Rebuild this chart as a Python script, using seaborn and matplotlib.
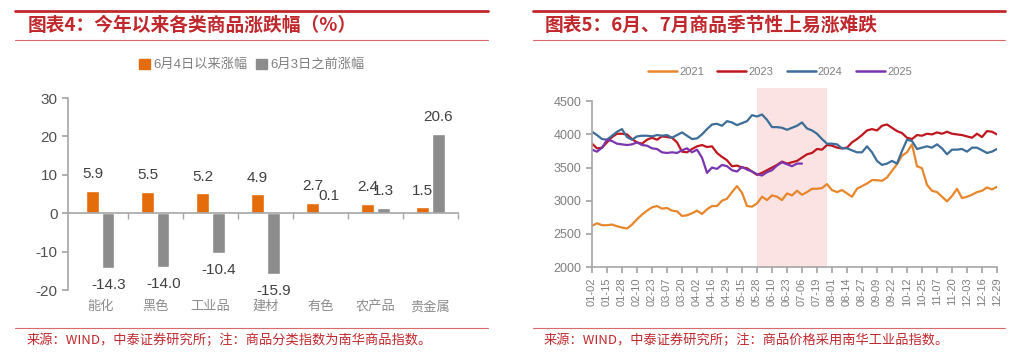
import numpy as np
import pandas as pd
import matplotlib
matplotlib.use('Agg')
import matplotlib.pyplot as plt
from matplotlib.lines import Line2D
from matplotlib.patches import Patch
import seaborn as sns

# left chart: year-to-date change by commodity group (%)
categories = ['能化', '黑色', '工业品', '建材', '有色', '农产品', '贵金属']
rise_since_0604 = [5.9, 5.5, 5.2, 4.9, 2.7, 2.4, 1.5]
rise_before_0603 = [-14.3, -14.0, -10.4, -15.9, 0.1, 1.3, 20.6]
bar_series = ['6月4日以来涨幅', '6月3日之前涨幅']

# right chart: Nanhua industrial index by year, one value every 3 trading days
tick_dates = ['01-02', '01-15', '01-28', '02-10', '02-23', '03-07', '03-20',
              '04-02', '04-16', '04-29', '05-15', '05-28', '06-10', '06-23',
              '07-06', '07-19', '08-01', '08-14', '08-27', '09-09', '09-22',
              '10-12', '10-25', '11-07', '11-20', '12-03', '12-16', '12-29']
y2021 = [2620, 2660, 2630, 2630, 2640, 2615, 2595, 2580, 2640, 2720,
         2790, 2850, 2900, 2920, 2880, 2890, 2850, 2840, 2770, 2780,
         2810, 2850, 2800, 2870, 2920, 2920, 3000, 3030, 3130, 3220,
         3120, 2920, 2910, 2960, 3060, 3010, 3080, 3060, 3010, 3110,
         3080, 3150, 3090, 3130, 3180, 3180, 3190, 3250, 3160, 3130,
         3160, 3110, 3060, 3180, 3220, 3260, 3310, 3310, 3300, 3350,
         3450, 3550, 3680, 3730, 3850, 3520, 3490, 3240, 3150, 3130,
         3060, 2990, 3070, 3180, 3040, 3060, 3090, 3130, 3150, 3200,
         3170, 3210]
y2023 = [3860, 3790, 3800, 3880, 3960, 4010, 4010, 4000, 3930, 3880,
         3860, 3920, 3950, 3920, 3970, 3960, 3950, 3880, 3740, 3730,
         3780, 3820, 3840, 3810, 3820, 3720, 3660, 3610, 3520, 3530,
         3500, 3490, 3440, 3390, 3420, 3460, 3500, 3540, 3590, 3560,
         3580, 3600, 3650, 3700, 3720, 3780, 3770, 3840, 3830, 3800,
         3790, 3800, 3880, 3930, 3990, 4060, 4080, 4060, 4130, 4150,
         4100, 4050, 4020, 3950, 3930, 3990, 3980, 4010, 4000, 4030,
         4010, 4040, 4010, 4000, 3990, 3970, 3950, 4010, 3960, 4050,
         4040, 4000]
y2024 = [4040, 3990, 3930, 3920, 3980, 4040, 4080, 3960, 3920, 3970,
         3980, 3980, 3970, 3990, 3980, 3990, 3950, 3990, 4030, 3980,
         3930, 3940, 4000, 4080, 4150, 4160, 4130, 4200, 4180, 4140,
         4170, 4200, 4290, 4270, 4300, 4220, 4110, 4110, 4100, 4070,
         4100, 4130, 4180, 4090, 4060, 4010, 3930, 3860, 3860, 3850,
         3790, 3790, 3760, 3730, 3730, 3820, 3730, 3600, 3540, 3560,
         3600, 3560, 3750, 3920, 3900, 3780, 3800, 3820, 3800, 3850,
         3790, 3700, 3770, 3770, 3780, 3740, 3800, 3800, 3760, 3720,
         3740, 3780]
y2025 = [3770, 3740, 3800, 3920, 3900, 3860, 3850, 3840, 3850, 3880,
         3840, 3830, 3790, 3780, 3730, 3720, 3730, 3720, 3760, 3790,
         3730, 3770, 3650, 3420, 3500, 3480, 3540, 3520, 3460, 3440,
         3510, 3470, 3440, 3400, 3380, 3430, 3460, 3530, 3580, 3550,
         3520, 3560, 3560]
years = ['2021', '2023', '2024', '2025']
season_start, season_end = 33, 47   # June-July window, in sample units

RED = '#c0282d'
ORANGE = '#e46c0a'
GREY = '#8c8c8c'
AXIS = '#a6a6a6'
line_palette = {'2021': '#e8862c', '2023': '#c0161e', '2024': '#3d6d99', '2025': '#7a35b0'}

sns.set_theme(style='ticks')
plt.rcParams['font.family'] = ['Liberation Sans', 'Noto Sans CJK SC', 'DejaVu Sans']
plt.rcParams['axes.unicode_minus'] = False

fig = plt.figure(figsize=(10.24, 3.56), dpi=100)
ax1 = fig.add_axes([68 / 1024, 1 - 290 / 356, 390 / 1024, 192 / 356])
ax2 = fig.add_axes([592 / 1024, 1 - 267 / 356, 405 / 1024, 179 / 356])

# ---- left: grouped bars
bar_df = pd.DataFrame({
    'cat': categories * 2,
    'val': rise_since_0604 + rise_before_0603,
    'series': [bar_series[0]] * len(categories) + [bar_series[1]] * len(categories),
})
sns.barplot(data=bar_df, x='cat', y='val', hue='series', palette=[ORANGE, GREY],
            width=0.58, gap=0.24, saturation=1, errorbar=None, legend=False, ax=ax1)
for cont in ax1.containers:
    ax1.bar_label(cont, fmt='%.1f', padding=7, fontsize=11, color='#404040')

ax1.set_xlim(-0.59, 6.5)
ax1.set_ylim(-20, 30)
ax1.set_yticks(range(-20, 31, 10))
ax1.set_xlabel('')
ax1.set_ylabel('')
ax1.spines[['top', 'right']].set_visible(False)
ax1.spines['bottom'].set_position(('data', 0))
for s in ['left', 'bottom']:
    ax1.spines[s].set_color(AXIS)
    ax1.spines[s].set_linewidth(1.2)
ax1.set_xticks(np.arange(0.5, 7, 1), minor=True)
ax1.tick_params(axis='x', which='major', length=0, pad=63, labelsize=9.5, labelcolor=GREY)
ax1.tick_params(axis='x', which='minor', length=4, color=AXIS, width=1)
ax1.tick_params(axis='y', length=4, color=AXIS, labelsize=11, labelcolor='#505050')
ax1.legend(handles=[Patch(color=ORANGE, label=bar_series[0]), Patch(color=GREY, label=bar_series[1])],
           loc='center', bbox_to_anchor=(252 / 1024, 1 - 65 / 356), bbox_transform=fig.transFigure,
           ncol=2, frameon=False, fontsize=9.5, labelcolor='#7f7f7f',
           handlelength=0.8, handleheight=0.8, handletextpad=0.3, columnspacing=0.6)

# ---- right: seasonal lines
line_df = pd.concat([
    pd.DataFrame({'idx': np.arange(len(v)), 'val': v, 'year': y})
    for y, v in zip(years, [y2021, y2023, y2024, y2025])
])
ax2.axvspan(season_start, season_end, color='#fbe3e3', lw=0, zorder=0)
sns.lineplot(data=line_df, x='idx', y='val', hue='year', palette=line_palette,
             linewidth=1.6, legend=False, ax=ax2)
ax2.set_xlim(0, len(y2021) - 1)
ax2.set_ylim(2000, 4700)
ax2.set_yticks(range(2000, 4501, 500))
ax2.set_xticks(np.arange(0, len(y2021), 3))
ax2.set_xticklabels(tick_dates, rotation=90)
ax2.set_xlabel('')
ax2.set_ylabel('')
ax2.spines[['top', 'right']].set_visible(False)
ax2.spines['left'].set_bounds(2000, 4500)
for s in ['left', 'bottom']:
    ax2.spines[s].set_color(AXIS)
    ax2.spines[s].set_linewidth(1.2)
ax2.tick_params(axis='both', length=4, color=AXIS, labelcolor='#7f7f7f')
ax2.tick_params(axis='x', labelsize=8)
ax2.tick_params(axis='y', labelsize=9)
ax2.legend(handles=[Line2D([], [], color=line_palette[y], lw=1.8, label=y) for y in years],
           loc='center', bbox_to_anchor=(780 / 1024, 1 - 72 / 356), bbox_transform=fig.transFigure,
           ncol=4, frameon=False, fontsize=8, labelcolor='#7f7f7f',
           handlelength=2.6, handletextpad=0.2, columnspacing=1.2)

# ---- titles, rules and sources
panels = [
    (15, 488, 28, '图表4：今年以来各类商品涨跌幅（%）',
     '来源：WIND，中泰证券研究所；注：商品分类指数为南华商品指数。'),
    (533, 1005, 545, '图表5：6月、7月商品季节性上易涨难跌',
     '来源：WIND，中泰证券研究所；注：商品价格采用南华工业品指数。'),
]
for x0, x1, tx, title, source in panels:
    fig.add_artist(Line2D([x0 / 1024, x1 / 1024], [1 - 11 / 356] * 2, color=RED, lw=2))
    fig.add_artist(Line2D([x0 / 1024, x1 / 1024], [1 - 40 / 356] * 2, color='#d96a6a', lw=0.8))
    fig.add_artist(Line2D([x0 / 1024, x1 / 1024], [1 - 328 / 356] * 2, color='#d96a6a', lw=0.8))
    fig.text(tx / 1024, 1 - 25 / 356, title, color=RED, fontsize=13.5, fontweight='bold',
             va='center', ha='left', family=['Noto Sans CJK SC', 'DejaVu Sans'])
    fig.text(tx / 1024 - 0.001, 1 - 340 / 356, source, color=RED, fontsize=9.5,
             va='center', ha='left', family=['Noto Sans CJK SC', 'DejaVu Sans'])

fig.savefig('out.png', dpi=100, facecolor='white')
